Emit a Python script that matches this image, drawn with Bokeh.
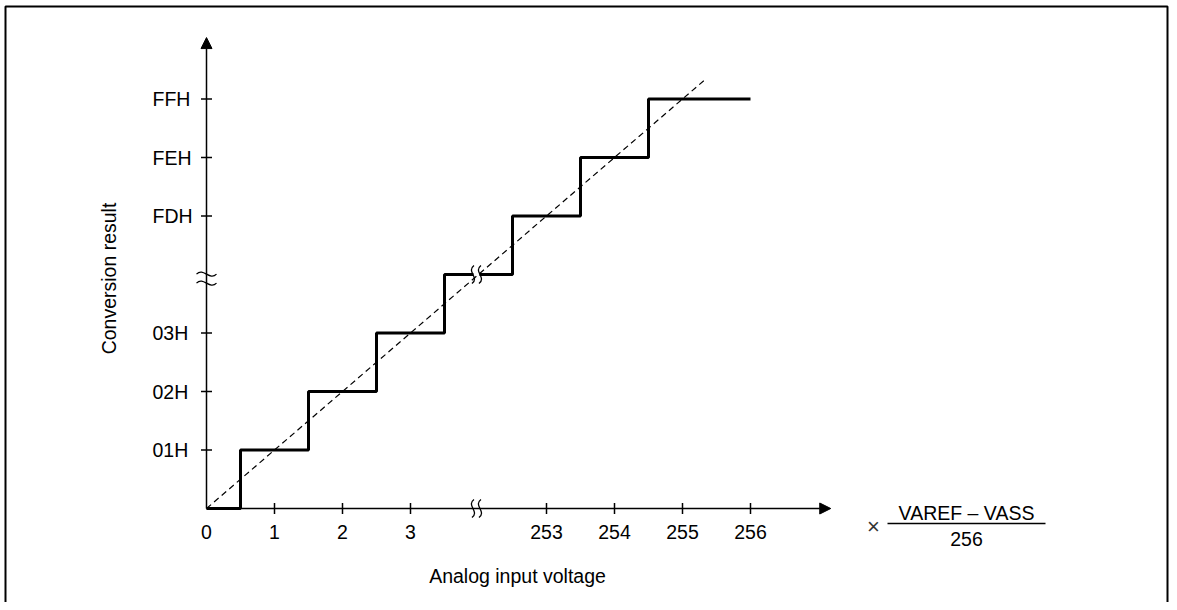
import math
from bokeh.plotting import figure
from bokeh.models import Arrow, NormalHead, Range1d
from bokeh.core.properties import value
from bokeh.embed import file_html
from bokeh.resources import INLINE

# ---- data (axis is broken: display positions 0..3 = 0..3, 5..8 = 253..256) ----
x_tick_pos = [0, 1, 2, 3, 5, 6, 7, 8]
x_tick_labels = ["0", "1", "2", "3", "253", "254", "255", "256"]
y_tick_pos = [1, 2, 3, 5, 6, 7]
y_tick_labels = ["01H", "02H", "03H", "FDH", "FEH", "FFH"]
step_x = [0, 0.5, 0.5, 1.5, 1.5, 2.5, 2.5, 3.5, 3.5, 4.5, 4.5, 5.5, 5.5, 6.5, 6.5, 8]
step_y = [0, 0, 1, 1, 2, 2, 3, 3, 4, 4, 5, 5, 6, 6, 7, 7]
ideal_x = [0, 7.35]
ideal_y = [0, 7.35]
x_break = 3.97
y_break = 3.93
x_axis_end = 9.18
y_axis_end = 8.05

# ---- layout constants ----
W, H = 1169, 602
PX, PY = 68.0, 58.5          # pixels per unit
OX, OY = 206, 508            # origin in canvas pixels
X0, X1 = -OX / PX, (W - OX) / PX
Y0, Y1 = (OY - H) / PY, OY / PY
FONT = value("Liberation Sans")
FS = "19.5px"

def dx(px):
    return px / PX

def dy(px):
    return px / PY

p = figure(width=W, height=H, x_range=Range1d(X0, X1), y_range=Range1d(Y0, Y1),
           output_backend="svg", toolbar_location=None, min_border=0,
           x_axis_location=None, y_axis_location=None)
p.grid.visible = False
p.outline_line_color = None
p.background_fill_color = "white"

# outer frame (left, top, right)
xl, xr = dx(5 - OX), dx(1167 - OX)
yt = dy(OY - 6)
p.line([xl, xl, xr, xr], [Y0 - 1, yt, yt, Y0 - 1], line_color="black", line_width=2)

# axes with arrow heads
for xe, ye in ((0, y_axis_end), (x_axis_end, 0)):
    p.add_layout(Arrow(end=NormalHead(size=11, fill_color="black", line_color="black", line_width=1),
                       x_start=0, y_start=0, x_end=xe, y_end=ye,
                       line_width=1.5, line_color="black"))

# ticks
p.scatter(x=x_tick_pos[1:], y=[0] * (len(x_tick_pos) - 1), marker="dash", angle=math.pi / 2,
          size=11, line_color="black", line_width=1.5)
p.scatter(x=[0] * len(y_tick_pos), y=y_tick_pos, marker="dash",
          size=11, line_color="black", line_width=1.5)

# staircase
p.line(step_x, step_y, line_color="black", line_width=3)

# break marks ------------------------------------------------------------
# y axis (horizontal double tilde)
p.rect(x=[0], y=[y_break], width=5, height=10, width_units="screen", height_units="screen",
       fill_color="white", line_color=None)
for off in (4.5, -4.5):
    p.bezier(x0=[-dx(10)], y0=[y_break + dy(off)], x1=[dx(10)], y1=[y_break + dy(off)],
             cx0=[-dx(3)], cy0=[y_break + dy(off + 7)], cx1=[dx(3)], cy1=[y_break + dy(off - 7)],
             line_color="black", line_width=1.3)
# x axis and staircase (vertical double squiggle)
for yc in (0, 4):
    p.rect(x=[x_break], y=[yc], width=6, height=6, width_units="screen", height_units="screen",
           fill_color="white", line_color=None)
    for off in (-3.5, 3.5):
        p.bezier(x0=[x_break + dx(off + 1)], y0=[yc + dy(9)], x1=[x_break + dx(off - 1)], y1=[yc - dy(9)],
                 cx0=[x_break + dx(off - 7)], cy0=[yc + dy(3)], cx1=[x_break + dx(off + 7)], cy1=[yc - dy(3)],
                 line_color="black", line_width=1.3)

# ideal line
p.line(ideal_x, ideal_y, line_color="black", line_width=1.2, line_dash="6 4")

# tick labels
p.text(x=[dx(152 - 206)] * len(y_tick_pos), y=y_tick_pos, text=y_tick_labels,
       text_align="left", text_baseline="middle", text_font=FONT, text_font_size=FS,
       text_color="black")
p.text(x=x_tick_pos, y=[dy(508 - 531)] * len(x_tick_pos), text=x_tick_labels,
       text_align="center", text_baseline="middle", text_font=FONT, text_font_size=FS,
       text_color="black")

# axis titles
p.text(x=[dx(108 - 206)], y=[dy(508 - 278)], text=["Conversion result"], angle=math.pi / 2,
       text_align="center", text_baseline="middle", text_font=FONT, text_font_size=FS,
       text_color="black")
p.text(x=[dx(517 - 206)], y=[dy(508 - 575)], text=["Analog input voltage"],
       text_align="center", text_baseline="middle", text_font=FONT, text_font_size=FS,
       text_color="black")

# unit formula
p.text(x=[dx(873 - 206)], y=[dy(508 - 526)], text=["×"],
       text_align="center", text_baseline="middle", text_font=FONT, text_font_size="22px",
       text_color="#333333")
p.text(x=[dx(966 - 206)], y=[dy(508 - 512)], text=["VAREF – VASS"],
       text_align="center", text_baseline="middle", text_font=FONT, text_font_size=FS,
       text_color="black")
p.line([dx(887 - 206), dx(1045 - 206)], [dy(508 - 523)] * 2, line_color="black", line_width=1.5)
p.text(x=[dx(966 - 206)], y=[dy(508 - 538)], text=["256"],
       text_align="center", text_baseline="middle", text_font=FONT, text_font_size=FS,
       text_color="black")

open("out.html", "w").write(file_html(p, INLINE))
